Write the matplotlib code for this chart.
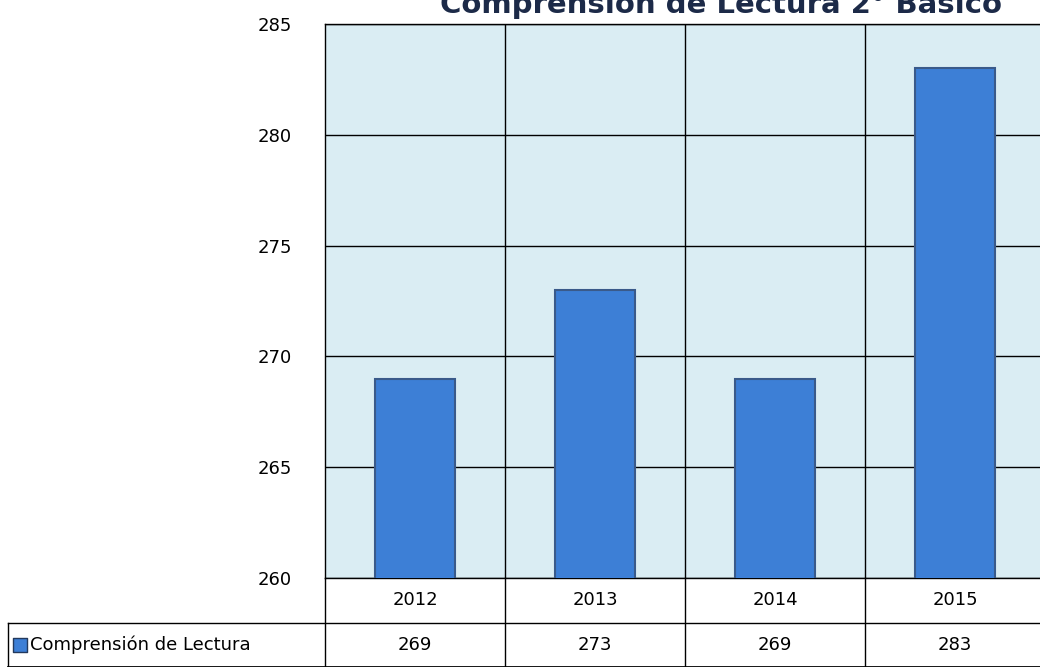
import matplotlib.pyplot as plt
import numpy as np

# data
years = ['2012', '2013', '2014', '2015']
values = [269, 273, 269, 283]
series_name = 'Comprensión de Lectura'
title = 'Comprensión de Lectura 2° Básico'

plt.rcParams['font.family'] = ['DejaVu Sans']

fig = plt.figure(figsize=(10.4, 6.67), dpi=100)
# plot area runs past the right edge of the picture (cropped chart)
ax = fig.add_axes([325 / 1040, 1 - 578 / 667, 720 / 1040, 554 / 667])
ax.set_facecolor('#daedf3')

x = np.arange(len(years))
ax.bar(x, values, width=0.44, bottom=0, color='#3d7fd6',
       edgecolor='#3a5a8a', linewidth=1.5, zorder=3)

ax.set_ylim(260, 285)
ax.set_xlim(-0.5, len(years) - 0.5)
ax.set_yticks(np.arange(260, 286, 5))
ax.tick_params(axis='y', length=0, labelsize=13, pad=24)
ax.set_xticks([])
ax.grid(axis='y', color='black', linewidth=1, zorder=1)
for b in np.arange(0.5, len(years) - 0.5, 1):
    ax.axvline(b, color='black', linewidth=1, zorder=1)
for s in ax.spines.values():
    s.set_color('black')
    s.set_linewidth(1)

# data table under the chart
tr = ax.get_xaxis_transform()
row1 = -0.0397
row_line = -0.0812
row2 = -0.121
bottom = -0.1606
for i, (yr, v) in enumerate(zip(years, values)):
    ax.text(i, row1, yr, transform=tr, ha='center', va='center', fontsize=13)
    ax.text(i, row2, str(v), transform=tr, ha='center', va='center', fontsize=13)
for b in np.arange(-0.5, len(years) - 0.5, 1):
    ax.plot([b, b], [0, bottom], transform=tr, color='black', lw=1, clip_on=False)

ta = ax.transAxes
left_x = (8 - 325) / 720
ax.plot([left_x, 1.2], [row_line, row_line], transform=ta, color='black', lw=1, clip_on=False)
ax.plot([left_x, left_x], [row_line, bottom], transform=ta, color='black', lw=1, clip_on=False)
ax.plot([left_x, 1.2], [bottom, bottom], transform=ta, color='black', lw=2, clip_on=False)
ax.scatter([left_x + 12 / 720], [row2], transform=ta, marker='s', s=100,
           color='#3d7fd6', edgecolor='#23395d', linewidth=1, clip_on=False)
ax.text(left_x + 22 / 720, row2, series_name, transform=ta, ha='left', va='center', fontsize=13)

# title is cut off at the top and right in the reference as well
fig.text(440 / 1040, 1 - 13 / 667, title, ha='left', va='baseline', fontsize=21,
         fontweight='bold', color='#1c2a48')

fig.savefig('out.png', dpi=100)
